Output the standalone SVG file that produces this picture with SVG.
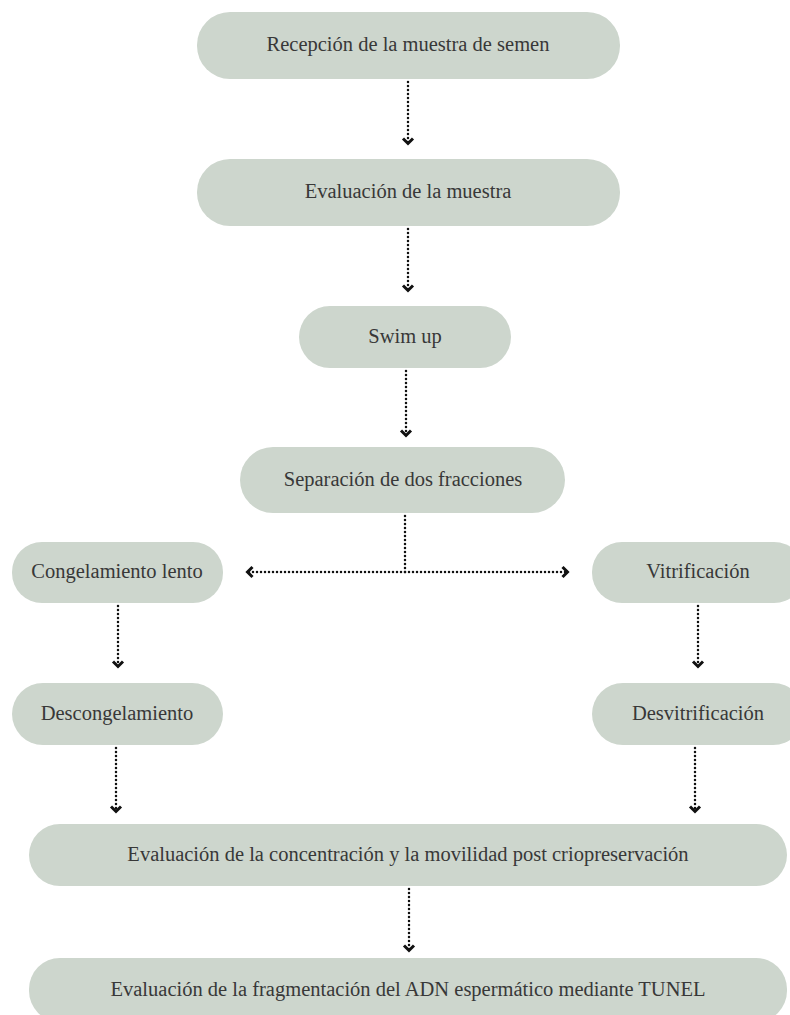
<svg xmlns="http://www.w3.org/2000/svg" width="790" height="1015" viewBox="0 0 790 1015">
<defs>
<style>
.box{fill:#cdd6cd;}
.t{font-family:"Liberation Serif","Times New Roman",serif;font-size:20.5px;fill:#383838;text-anchor:middle;}
.c{fill:none;stroke:#111;stroke-width:2.5;stroke-dasharray:0 4;stroke-linecap:round;}
</style>
<marker id="ah" viewBox="0 0 14 14" refX="8.5" refY="7" markerWidth="14" markerHeight="14" markerUnits="userSpaceOnUse" orient="auto-start-reverse">
<path d="M3,2 L8,7 L3,12" fill="none" stroke="#111" stroke-width="3"/>
</marker>
</defs>
<rect width="790" height="1015" fill="#ffffff"/>
<g id="n1"><rect class="box" x="197" y="12" width="423" height="67" rx="33"/><text class="t" x="408" y="51" font-family="Liberation Serif, serif">Recepción de la muestra de semen</text></g>
<g id="n2"><rect class="box" x="197" y="159" width="423" height="67" rx="33"/><text class="t" x="408" y="198" font-family="Liberation Serif, serif">Evaluación de la muestra</text></g>
<g id="n3"><rect class="box" x="299" y="306" width="212" height="62" rx="31"/><text class="t" x="405" y="343" font-family="Liberation Serif, serif">Swim up</text></g>
<g id="n4"><rect class="box" x="240" y="447" width="325" height="66" rx="33"/><text class="t" x="403" y="486" font-family="Liberation Serif, serif">Separación de dos fracciones</text></g>
<g id="n5"><rect class="box" x="12" y="542" width="211" height="61" rx="30"/><text class="t" x="117" y="578" font-family="Liberation Serif, serif">Congelamiento lento</text></g>
<g id="n6"><rect class="box" x="592" y="542" width="212" height="61" rx="30"/><text class="t" x="698" y="578" font-family="Liberation Serif, serif">Vitrificación</text></g>
<g id="n7"><rect class="box" x="12" y="683" width="211" height="62" rx="31"/><text class="t" x="117" y="720" font-family="Liberation Serif, serif">Descongelamiento</text></g>
<g id="n8"><rect class="box" x="592" y="683" width="212" height="62" rx="31"/><text class="t" x="698" y="720" font-family="Liberation Serif, serif">Desvitrificación</text></g>
<g id="n9"><rect class="box" x="29" y="824" width="758" height="62" rx="31"/><text class="t" x="408" y="861" font-family="Liberation Serif, serif">Evaluación de la concentración y la movilidad post criopreservación</text></g>
<g id="n10"><rect class="box" x="29" y="958" width="758" height="64" rx="31"/><text class="t" x="408" y="996" font-family="Liberation Serif, serif">Evaluación de la fragmentación del ADN espermático mediante TUNEL</text></g>
<g id="connectors">
<path class="c" d="M408,82 V144" marker-end="url(#ah)"/>
<path class="c" d="M408,229 V291" marker-end="url(#ah)"/>
<path class="c" d="M406,371 V436" marker-end="url(#ah)"/>
<path class="c" d="M405,516 V572"/>
<path class="c" d="M405,572 H247" marker-end="url(#ah)"/>
<path class="c" d="M405,572 H568" marker-end="url(#ah)"/>
<path class="c" d="M118,606 V667" marker-end="url(#ah)"/>
<path class="c" d="M698,606 V667" marker-end="url(#ah)"/>
<path class="c" d="M116,748 V812" marker-end="url(#ah)"/>
<path class="c" d="M695,748 V812" marker-end="url(#ah)"/>
<path class="c" d="M409,889 V951" marker-end="url(#ah)"/>
</g>
</svg>
